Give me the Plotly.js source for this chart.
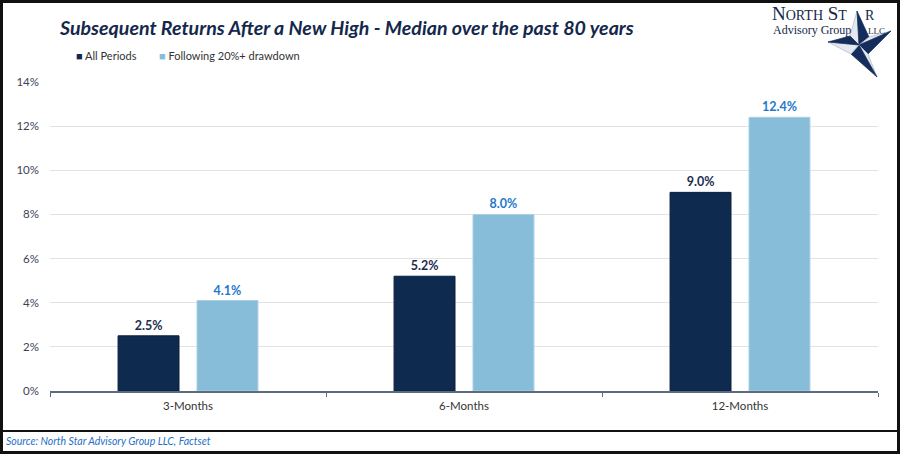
<!DOCTYPE html>
<html>
<head>
<meta charset="utf-8">
<script src="https://cdn.plot.ly/plotly-3.0.1.min.js"></script>
<style>
  html, body { margin: 0; padding: 0; background: #fff; }
  #chart { width: 900px; height: 454px; }
</style>
</head>
<body>
<div id="chart"></div>
<script>
// ---- data ----
const categories = ["3-Months", "6-Months", "12-Months"];
const allPeriods = [0.025, 0.052, 0.090];
const afterDrawdown = [0.041, 0.080, 0.124];
const seriesNames = ["All Periods", "Following 20%+ drawdown"];
const yTickVals = [0, 0.02, 0.04, 0.06, 0.08, 0.10, 0.12, 0.14];
const titleText = "Subsequent Returns After a New High - Median over the past 80 years";
const sourceText = "Source: North Star Advisory Group LLC, Factset";

// ---- styling ----
const W = 900, H = 454;
const M = { l: 50, r: 22, t: 82, b: 63 };
const PW = W - M.l - M.r, PH = H - M.t - M.b;
const px = x => (x - M.l) / PW;          // pixel -> paper x
const py = y => (H - M.b - y) / PH;      // pixel -> paper y

const DARK = "#0f2a4f";
const LIGHT = "#87bdd9";
const LABEL_BLUE = "#1f78cc";
const FONT = "Lato, 'Open Sans', sans-serif";
const SERIF = "'Liberation Serif', 'DejaVu Serif', serif";

const pct = v => (v * 100).toFixed(1) + "%";

const traces = [
  {
    type: "bar", name: seriesNames[0], x: categories, y: allPeriods,
    marker: { color: DARK, line: { color: "#0a1f3d", width: 1 } },
    text: allPeriods.map(pct), textposition: "outside", cliponaxis: false,
    textfont: { family: FONT, size: 12.5, color: "#1b2d4f", weight: "bold" },
    hoverinfo: "skip"
  },
  {
    type: "bar", name: seriesNames[1], x: categories, y: afterDrawdown,
    marker: { color: LIGHT, line: { color: "#a8d0e6", width: 1 } },
    text: afterDrawdown.map(pct), textposition: "outside", cliponaxis: false,
    textfont: { family: FONT, size: 12.5, color: LABEL_BLUE, weight: "bold" },
    hoverinfo: "skip"
  }
];

// star logo geometry (pixels)
const C = [859, 45];
const tips = [[857, 11], [891, 31], [877, 77], [828, 42]];
const inner = [[869, 37], [868, 54], [851, 54], [850, 36]];
function P(p) { return px(p[0]).toFixed(5) + "," + py(p[1]).toFixed(5); }
const starShapes = [];
for (let i = 0; i < 4; i++) {
  const t = tips[i];
  const a = inner[(i + 3) % 4];   // before
  const b = inner[i];             // after
  starShapes.push({ type: "path", xref: "paper", yref: "paper", layer: "above",
    path: "M" + P(C) + " L" + P(a) + " L" + P(t) + " Z",
    fillcolor: "#e4e9f0", line: { color: "#a9b6c9", width: 0.7 } });
  starShapes.push({ type: "path", xref: "paper", yref: "paper", layer: "above",
    path: "M" + P(C) + " L" + P(t) + " L" + P(b) + " Z",
    fillcolor: "#142d5a", line: { color: "#142d5a", width: 0.7 } });
}

const layout = {
  width: W, height: H,
  margin: M,
  paper_bgcolor: "#fff", plot_bgcolor: "#fff",
  showlegend: false,
  barmode: "group",
  bargap: 0.428, bargroupgap: 0.228,
  font: { family: FONT, color: "#333" },
  xaxis: {
    type: "category", tickson: "boundaries", ticks: "outside", ticklen: 4,
    tickcolor: "#5d6b80", showline: true, linecolor: "#5d6b80", linewidth: 1.5,
    showgrid: false, tickfont: { family: FONT, size: 11.5, color: "#333" },
    ticklabelstandoff: 4, fixedrange: true
  },
  yaxis: {
    range: [0, 0.14], tickvals: yTickVals, tickformat: ".0%",
    showgrid: true, gridcolor: "#e3e3e3", gridwidth: 1.2, zeroline: false,
    showline: false, ticks: "", ticklabelstandoff: 10,
    tickfont: { family: FONT, size: 11.5, color: "#3a4356" }, fixedrange: true
  },
  annotations: [
    { xref: "paper", yref: "paper", x: px(57), y: py(27), xanchor: "left", yanchor: "middle",
      text: "<b><i>" + titleText + "</i></b>", showarrow: false,
      font: { family: FONT, size: 19.6, color: "#14284b" } },
    { xref: "paper", yref: "paper", x: px(74), y: py(56), xanchor: "left", yanchor: "middle",
      text: "<span style='color:" + DARK + "'>■</span> " + seriesNames[0], showarrow: false,
      font: { family: FONT, size: 11, color: "#333" } },
    { xref: "paper", yref: "paper", x: px(157), y: py(56), xanchor: "left", yanchor: "middle",
      text: "<span style='color:" + LIGHT + "'>■</span> " + seriesNames[1], showarrow: false,
      font: { family: FONT, size: 11, color: "#333" } },
    { xref: "paper", yref: "paper", x: px(4), y: py(441), xanchor: "left", yanchor: "middle",
      text: "<i>" + sourceText + "</i>", showarrow: false,
      font: { family: FONT, size: 10.5, color: "#1f6fc6" } },
    // logo text
    { xref: "paper", yref: "paper", x: px(770), y: py(14), xanchor: "left", yanchor: "middle",
      text: "N<span style='font-size:14px'>ORTH</span> S<span style='font-size:14px'>T</span>", showarrow: false,
      font: { family: SERIF, size: 19, color: "#14284b" } },
    { xref: "paper", yref: "paper", x: px(863), y: py(15), xanchor: "left", yanchor: "middle",
      text: "<span style='font-size:14px'>R</span>", showarrow: false,
      font: { family: SERIF, size: 19, color: "#14284b" } },
    { xref: "paper", yref: "paper", x: px(771), y: py(30), xanchor: "left", yanchor: "middle",
      text: "Advisory Group", showarrow: false,
      font: { family: SERIF, size: 12, color: "#14284b" } },
    { xref: "paper", yref: "paper", x: px(866), y: py(31), xanchor: "left", yanchor: "middle",
      text: "LLC", showarrow: false,
      font: { family: SERIF, size: 9, color: "#14284b" } }
  ],
  shapes: [
    // outer frame
    { type: "rect", xref: "paper", yref: "paper", x0: px(1.5), x1: px(898.5), y0: py(1.5), y1: py(452.5),
      line: { color: "#111", width: 3 }, layer: "above" },
    // separator above source
    { type: "line", xref: "paper", yref: "paper", x0: px(0), x1: px(900), y0: py(431), y1: py(431),
      line: { color: "#111", width: 2 }, layer: "above" }
  ].concat(starShapes)
};

Plotly.newPlot("chart", traces, layout, { displayModeBar: false, staticPlot: true });
</script>
</body>
</html>
